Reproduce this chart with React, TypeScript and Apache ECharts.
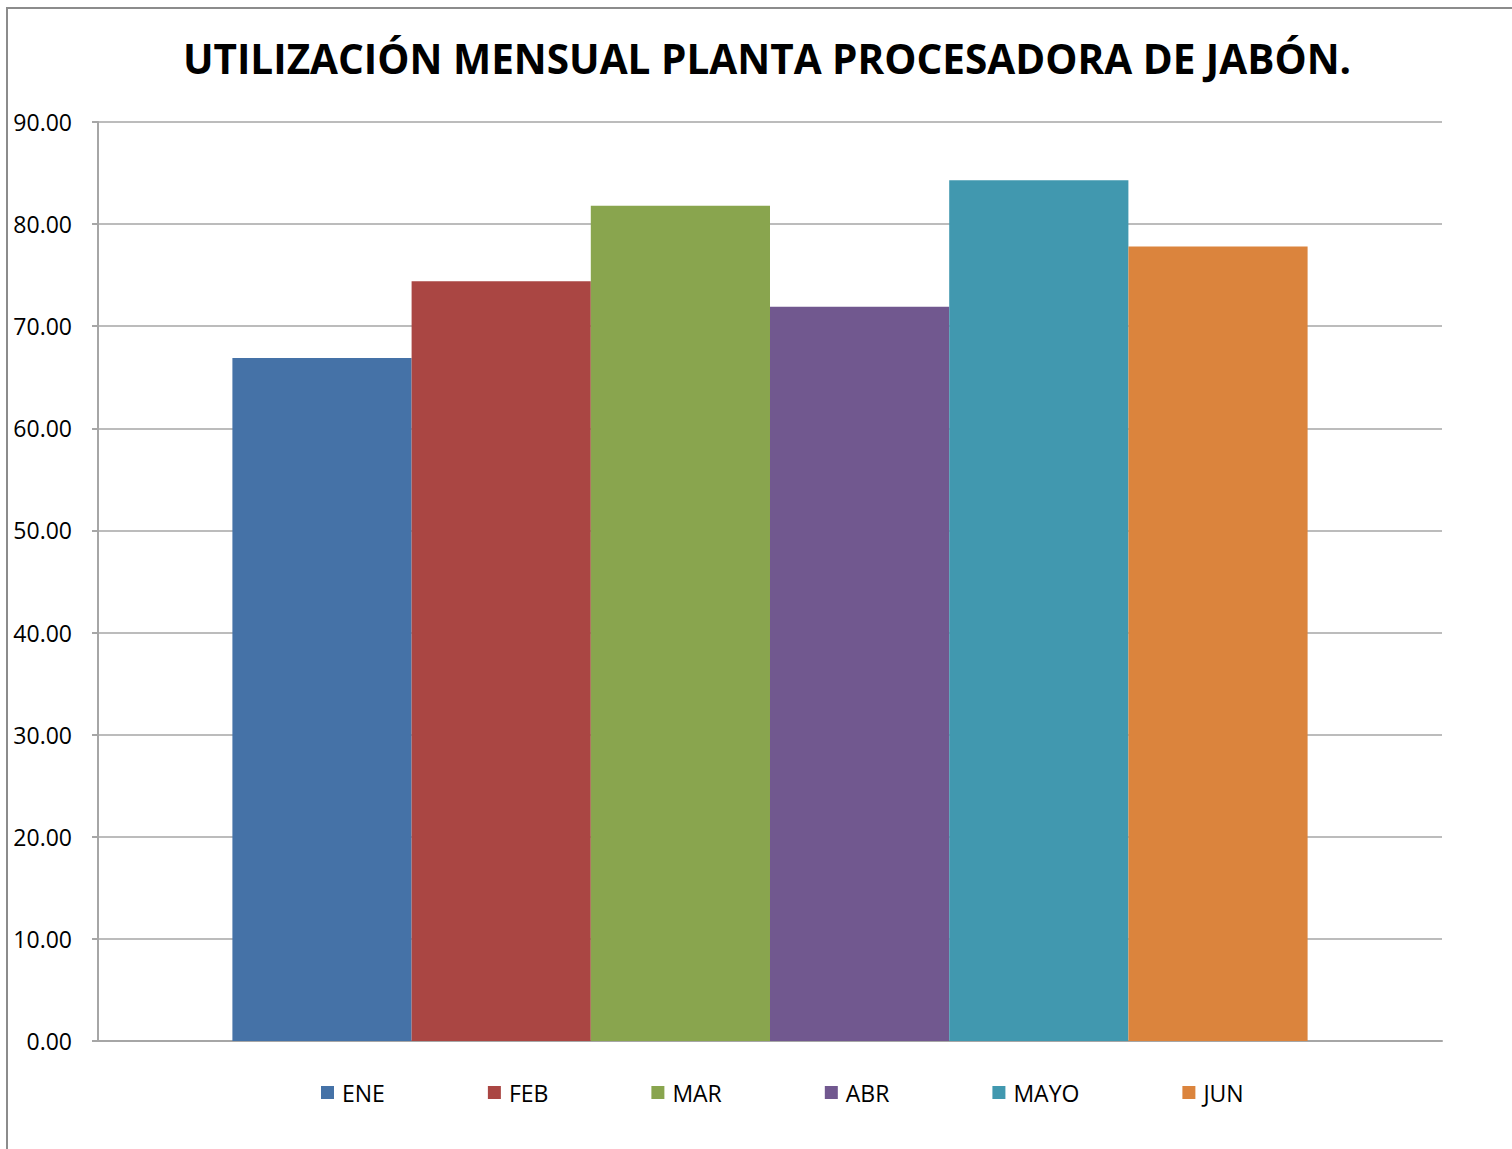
import React, { useEffect, useRef } from "react";
import * as echarts from "echarts";

const months = ["ENE", "FEB", "MAR", "ABR", "MAYO", "JUN"];
const values = [66.9, 74.4, 81.8, 71.9, 84.3, 77.8];
const colors = ["#4572A7", "#AA4643", "#89A54E", "#71588F", "#4198AF", "#DB843D"];
const titleText = "UTILIZACIÓN MENSUAL PLANTA PROCESADORA DE JABÓN.";

export default function App() {
  const ref = useRef<HTMLDivElement>(null);
  useEffect(() => {
    const chart = echarts.init(ref.current!, null, { renderer: "svg" });
    chart.setOption({
      animation: false,
      backgroundColor: "#ffffff",
      title: {
        text: titleText,
        left: 767,
        textAlign: "center",
        top: 38,
        padding: 0,
        textStyle: { fontFamily: "Open Sans", fontWeight: "bold", fontSize: 40.5, color: "#000" },
      },
      graphic: [
        {
          type: "rect",
          shape: { x: 7, y: 8, width: 1540, height: 1180 },
          style: { fill: "none", stroke: "#8c8c8c", lineWidth: 2 },
          silent: true,
        },
      ],
      legend: {
        left: 321,
        top: 1081,
        padding: 0,
        itemWidth: 13,
        itemHeight: 13,
        itemGap: 103,
        icon: "rect",
        textStyle: { fontFamily: "Open Sans", fontSize: 23, color: "#000", padding: [0, 0, 0, 3] },
        data: months,
      },
      grid: { left: 98, top: 122, right: 70, bottom: 108, containLabel: false },
      xAxis: {
        type: "category",
        data: [""],
        axisLine: { show: true, lineStyle: { color: "#a6a6a6", width: 2 } },
        axisTick: { show: false },
        axisLabel: { show: false },
      },
      yAxis: {
        type: "value",
        min: 0,
        max: 90,
        interval: 10,
        axisLine: { show: true, lineStyle: { color: "#a6a6a6", width: 2 } },
        axisTick: { show: true, length: 6, lineStyle: { color: "#a6a6a6", width: 2 } },
        axisLabel: {
          margin: 26,
          fontFamily: "Open Sans",
          fontSize: 23,
          color: "#000",
          formatter: (v: number) => v.toFixed(2),
        },
        splitLine: { show: true, lineStyle: { color: "#a6a6a6", width: 1.5 } },
      },
      series: months.map((m, i) => ({
        name: m,
        type: "bar",
        data: [values[i]],
        barGap: "0%",
        barCategoryGap: "20%",
        itemStyle: { color: colors[i] },
      })),
    });
    return () => chart.dispose();
  }, []);
  return (
    <div
      ref={ref}
      style={{ position: "absolute", left: 0, top: 0, width: 1512, height: 1149 }}
    />
  );
}
